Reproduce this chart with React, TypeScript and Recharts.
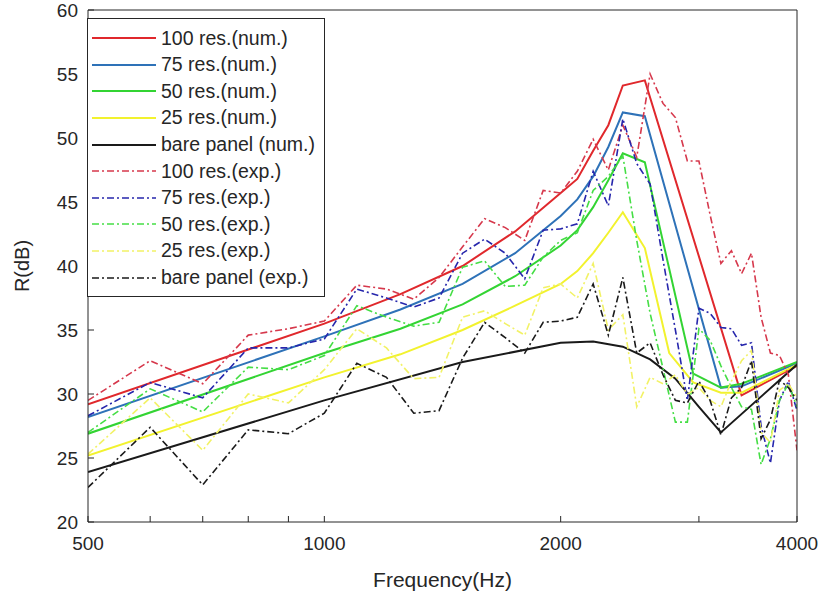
import { LineChart, Line, XAxis, YAxis, Legend } from 'recharts'

// frequencies of the measured (exp.) curves, Hz
const expFreq = [
  500, 600, 700, 800, 900, 1000, 1100, 1200, 1300, 1400, 1500, 1600, 1700, 1800, 1900, 2000, 2100, 2200,
  2300, 2400, 2500, 2600, 2700, 2800, 2900, 3000, 3100, 3200, 3300, 3400, 3500, 3600, 3700, 3800, 3900, 4000,
]

// numerical curves: each has its own frequency list
const num100Freq = [500, 1000, 1250, 1500, 1750, 2000, 2100, 2200, 2300, 2400, 2560, 3400, 4000]
const num100 = [29.2, 35.5, 37.8, 40.0, 42.7, 45.7, 46.8, 49.0, 51.0, 54.1, 54.5, 29.9, 32.2]

const num75Freq = [500, 1000, 1250, 1500, 1750, 2000, 2100, 2200, 2300, 2400, 2560, 3200, 3400, 4000]
const num75 = [28.2, 34.5, 36.6, 38.6, 41.0, 43.9, 45.2, 47.0, 49.3, 52.0, 51.7, 30.5, 30.6, 32.4]

const num50Freq = [500, 1000, 1250, 1500, 1750, 2000, 2100, 2200, 2300, 2400, 2560, 2950, 3200, 3400, 4000]
const num50 = [26.9, 33.2, 35.1, 37.0, 39.2, 41.6, 42.8, 44.6, 46.7, 48.8, 48.1, 31.6, 30.5, 30.8, 32.5]

const num25Freq = [500, 1000, 1250, 1500, 1750, 2000, 2100, 2200, 2300, 2400, 2560, 2750, 2950, 3200, 3400, 4000]
const num25 = [25.2, 31.3, 33.1, 35.0, 36.9, 38.6, 39.6, 41.0, 42.6, 44.2, 41.4, 33.2, 30.9, 30.1, 30.1, 32.3]

const numBareFreq = [500, 1000, 1500, 2000, 2200, 2400, 2600, 2800, 3000, 3200, 4000]
const numBare = [23.9, 29.5, 32.5, 34.0, 34.1, 33.7, 32.7, 31.2, 29.0, 27.0, 32.3]

// measured curves
const exp100 = [
  29.5, 32.6, 30.8, 34.6, 35.1, 35.7, 38.5, 38.2, 37.4, 39.1, 41.5, 43.7, 43.0, 42.0, 45.9, 45.7, 47.4, 49.9,
  47.5, 51.0, 48.5, 55.0, 52.7, 51.6, 48.2, 48.2, 44.0, 40.2, 41.2, 39.4, 41.0, 36.0, 33.2, 33.0, 31.5, 25.6,
]
const exp75 = [
  28.3, 30.9, 29.7, 33.6, 33.6, 34.3, 38.2, 37.5, 36.8, 37.5, 41.0, 42.1, 41.0, 39.0, 42.8, 42.9, 43.3, 47.4,
  44.7, 51.5, 48.0, 46.4, 40.5, 35.0, 29.5, 36.7, 36.3, 35.2, 35.1, 33.8, 34.0, 27.5, 24.6, 29.5, 31.0, 28.7,
]
const exp50 = [
  27.0, 30.4, 28.6, 32.1, 31.9, 33.0, 36.9, 36.0, 35.3, 35.6, 39.9, 40.4, 38.4, 38.5, 40.7, 42.0, 42.6, 45.9,
  47.0, 48.6, 42.0, 36.3, 32.0, 27.8, 27.8, 35.1, 34.2, 32.2, 30.5, 29.0, 28.8, 24.5, 26.5, 29.5, 30.8, 29.0,
]
const exp25 = [
  25.3, 29.7, 25.6, 30.0, 29.3, 31.9, 35.1, 33.6, 31.2, 31.3, 36.0, 36.5, 35.5, 34.6, 38.3, 38.6, 37.5, 40.2,
  35.0, 36.2, 29.0, 31.3, 30.8, 31.5, 30.0, 30.5, 29.5, 29.0, 31.0, 32.6, 33.4, 27.0, 26.2, 30.3, 30.8, 29.7,
]
const expBare = [
  22.7, 27.4, 22.9, 27.2, 26.9, 28.5, 32.4, 31.3, 28.5, 28.7, 32.8, 35.6, 34.4, 33.2, 35.6, 35.7, 36.0, 38.6,
  34.6, 39.1, 33.2, 34.0, 31.5, 29.5, 29.3, 31.0, 29.5, 26.8, 29.7, 30.5, 32.6, 26.5, 28.0, 31.1, 30.5, 29.5,
]

const xTicks = [500, 600, 700, 800, 900, 1000, 2000, 3000, 4000]
const xLabelled = [500, 1000, 2000, 4000]
const yTicks = [20, 25, 30, 35, 40, 45, 50, 55, 60]

const AXIS = '#262626'
const FONT = '"Liberation Sans", Arial, Helvetica, sans-serif'
const DASHDOT = '7 3 2 3'

const series = [
  { name: '100 res.(num.)', freq: num100Freq, values: num100, color: '#e0282c', dash: undefined, width: 2 },
  { name: '75 res.(num.)', freq: num75Freq, values: num75, color: '#2e72b8', dash: undefined, width: 2 },
  { name: '50 res.(num.)', freq: num50Freq, values: num50, color: '#33d433', dash: undefined, width: 2 },
  { name: '25 res.(num.)', freq: num25Freq, values: num25, color: '#f2f22e', dash: undefined, width: 2 },
  { name: 'bare panel (num.)', freq: numBareFreq, values: numBare, color: '#1a1a1a', dash: undefined, width: 2 },
  { name: '100 res.(exp.)', freq: expFreq, values: exp100, color: '#d6384c', dash: DASHDOT, width: 1.6 },
  { name: '75 res.(exp.)', freq: expFreq, values: exp75, color: '#2626ac', dash: DASHDOT, width: 1.6 },
  { name: '50 res.(exp.)', freq: expFreq, values: exp50, color: '#45de45', dash: DASHDOT, width: 1.6 },
  { name: '25 res.(exp.)', freq: expFreq, values: exp25, color: '#f2f266', dash: DASHDOT, width: 1.6 },
  { name: 'bare panel (exp.)', freq: expFreq, values: expBare, color: '#1a1a1a', dash: DASHDOT, width: 1.6 },
]

const toPoints = (freq: number[], vals: number[]) => freq.map((f, i) => ({ f, r: vals[i] }))

function LegendBox() {
  return (
    <div
      style={{
        border: `1px solid ${AXIS}`,
        background: '#fff',
        padding: '6px 0 5px',
        fontFamily: FONT,
        fontSize: 19.5,
        color: AXIS,
      }}
    >
      {series.map((s) => (
        <div key={s.name} style={{ display: 'flex', alignItems: 'center', height: 26.6 }}>
          <svg width={68} height={10} style={{ flex: 'none' }}>
            <line x1={4} y1={5} x2={68} y2={5} stroke={s.color} strokeWidth={s.width} strokeDasharray={s.dash} />
          </svg>
          <span style={{ marginLeft: 5, whiteSpace: 'nowrap', lineHeight: 1 }}>{s.name}</span>
        </div>
      ))}
    </div>
  )
}

function YLabel({ viewBox }: { viewBox?: { x: number; y: number; width: number; height: number } }) {
  if (!viewBox) return null
  const cx = viewBox.x + 22
  const cy = viewBox.y + viewBox.height / 2
  return (
    <text x={cx} y={cy} transform={`rotate(-90 ${cx} ${cy})`} textAnchor="middle" dominantBaseline="central"
      fontFamily={FONT} fontSize={20} fill={AXIS}>
      R(dB)
    </text>
  )
}

export default function App() {
  const tickStyle = { fontFamily: FONT, fontSize: 19, fill: AXIS }
  return (
    <div style={{ position: 'absolute', left: 0, top: 0, background: '#fff' }}>
      <LineChart width={823} height={594} margin={{ top: 9, right: 25, left: 0, bottom: 0 }}>
        <XAxis
          dataKey="f"
          type="number"
          scale="log"
          domain={[500, 4000]}
          allowDataOverflow
          ticks={xTicks}
          interval={0}
          tickFormatter={(v: number) => (xLabelled.includes(v) ? String(v) : '')}
          height={72}
          stroke={AXIS}
          tickSize={-6}
          tickMargin={21}
          tick={tickStyle}
          label={{ value: 'Frequency(Hz)', position: 'insideBottom', offset: 7, style: { ...tickStyle, fontSize: 21 } }}
        />
        <XAxis
          xAxisId="top"
          orientation="top"
          dataKey="f"
          type="number"
          scale="log"
          domain={[500, 4000]}
          allowDataOverflow
          ticks={xTicks}
          interval={0}
          height={1}
          stroke={AXIS}
          tickSize={-6}
          tick={false}
        />
        <YAxis
          type="number"
          domain={[20, 60]}
          ticks={yTicks}
          interval={0}
          width={88}
          stroke={AXIS}
          tickSize={-6}
          tickMargin={16}
          tick={tickStyle}
          label={<YLabel />}
        />
        <YAxis
          yAxisId="right"
          orientation="right"
          type="number"
          domain={[20, 60]}
          ticks={yTicks}
          interval={0}
          width={1}
          stroke={AXIS}
          tickSize={-6}
          tick={false}
        />
        {series.map((s) => (
          <Line
            key={s.name}
            data={toPoints(s.freq, s.values)}
            dataKey="r"
            name={s.name}
            type="linear"
            stroke={s.color}
            strokeWidth={s.width}
            strokeDasharray={s.dash}
            dot={false}
            activeDot={false}
            isAnimationActive={false}
          />
        ))}
        <Legend
          layout="vertical"
          align="center"
          verticalAlign="middle"
          content={<LegendBox />}
          wrapperStyle={{ left: 87, top: 18, width: 238 }}
        />
      </LineChart>
    </div>
  )
}
